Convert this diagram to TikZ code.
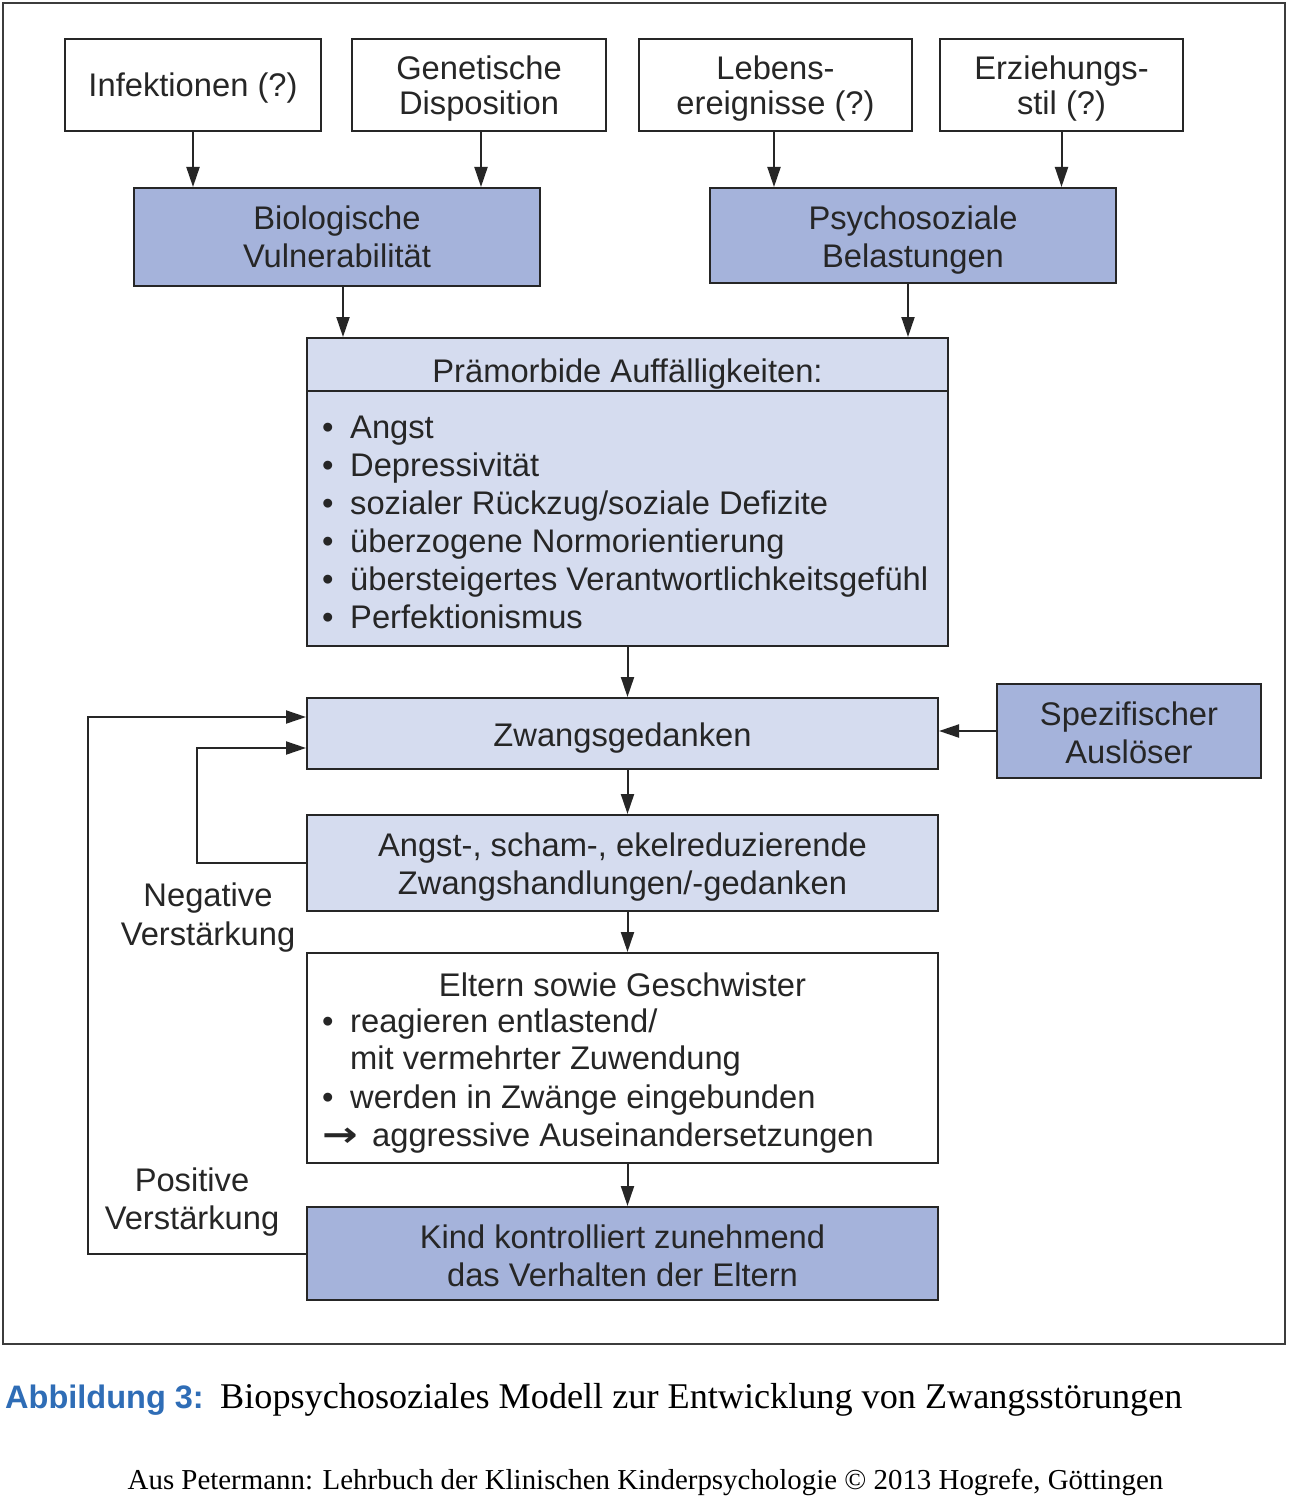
\documentclass[tikz,border=0pt]{standalone}
\usepackage{fontspec}
\usepackage{graphicx}
\setmainfont{Liberation Sans}
\newfontfamily\capserif{Liberation Serif}
\newfontfamily\dejavu{DejaVu Sans}
\usetikzlibrary{arrows.meta}
\definecolor{darkfill}{HTML}{A5B3DB}
\definecolor{lightfill}{HTML}{D5DCEF}
\definecolor{linecol}{HTML}{262626}
\definecolor{capblue}{HTML}{2F6DB6}
\tikzset{
  box/.style={draw=linecol, line width=2pt, inner sep=0pt},
  dbox/.style={box, fill=darkfill},
  lbox/.style={box, fill=lightfill},
  wbox/.style={box, fill=white},
  arr/.style={draw=linecol, line width=2pt, -{Triangle[length=20pt,width=13pt]}},
  conn/.style={draw=linecol, line width=2pt},
  txt/.style={inner sep=0pt, font=\fontsize{32.7}{38}\selectfont, text=black!85},
  lbl/.style={txt, anchor=base},
  lst/.style={txt, anchor=base west},
}
\begin{document}
\begin{tikzpicture}[x=1pt,y=-1pt]
\useasboundingbox (0,0) rectangle (1290,1498);
\fill[white] (0,0) rectangle (1290,1498);
\node[draw=linecol!90, line width=2.5pt, minimum width=1282pt, minimum height=1341pt, inner sep=0pt] (frame) at (644,673.5) {};

% top row
\node[wbox, minimum width=256pt, minimum height=92pt] (inf) at (193,85) {};
\node[wbox, minimum width=254pt, minimum height=92pt] (gen) at (479,85) {};
\node[wbox, minimum width=273pt, minimum height=92pt] (leb) at (775.5,85) {};
\node[wbox, minimum width=243pt, minimum height=92pt] (erz) at (1061.5,85) {};
\node[lbl] (tinf) at (193,97) {Infektionen (?)};
\node[lbl] (tgen1) at (479,80) {Genetische};
\node[lbl] (tgen2) at (479,115) {Disposition};
\node[lbl] (tleb1) at (775.5,80) {Lebens-};
\node[lbl] (tleb2) at (775.5,115) {ereignisse (?)};
\node[lbl] (terz1) at (1061.5,80) {Erziehungs-};
\node[lbl] (terz2) at (1061.5,115) {stil (?)};

% second row
\node[dbox, minimum width=406pt, minimum height=98pt] (bio) at (337,237) {};
\node[dbox, minimum width=406pt, minimum height=95pt] (psy) at (913,235.5) {};
\node[lbl] (tbio1) at (337,229) {Biologische};
\node[lbl] (tbio2) at (337,267) {Vulnerabilität};
\node[lbl] (tpsy1) at (913,229) {Psychosoziale};
\node[lbl] (tpsy2) at (913,267) {Belastungen};

% Praemorbide
\node[lbox, minimum width=641pt, minimum height=308pt] (pm) at (627.5,492) {};
\draw[conn] ([yshift=-54pt]pm.north west) -- ([yshift=-54pt]pm.north east);
\node[lbl] (pmh) at (627.5,382) {Prämorbide Auffälligkeiten:};
\foreach \t [count=\i] in {Angst,Depressivität,sozialer Rückzug/soziale Defizite,überzogene Normorientierung,übersteigertes Verantwortlichkeitsgefühl,Perfektionismus}{
  \node[lst] (pl\i) at (322,{438+(\i-1)*38}) {\makebox[28pt][l]{•}\t};
}

% Zwangsgedanken
\node[lbox, minimum width=631pt, minimum height=71pt] (zw) at (622.5,733.5) {};
\node[lbl] (tzw) at (622.5,746) {Zwangsgedanken};
\node[dbox, minimum width=264pt, minimum height=94pt] (sp) at (1129,731) {};
\node[lbl] (tsp1) at (1129,725) {Spezifischer};
\node[lbl] (tsp2) at (1129,763) {Auslöser};

% Angst box
\node[lbox, minimum width=631pt, minimum height=96pt] (an) at (622.5,863) {};
\node[lbl] (tan1) at (622.5,856) {Angst-, scham-, ekelreduzierende};
\node[lbl] (tan2) at (622.5,894) {Zwangshandlungen/-gedanken};

% Eltern box
\node[wbox, minimum width=631pt, minimum height=210pt] (el) at (622.5,1058) {};
\node[lbl] (elh) at (622.5,996) {Eltern sowie Geschwister};
\node[lst] (el1) at (322,1032) {\makebox[28pt][l]{•}reagieren entlastend/};
\node[lst] (el2) at (322,1069) {\makebox[28pt][l]{}mit vermehrter Zuwendung};
\node[lst] (el3) at (322,1108) {\makebox[28pt][l]{•}werden in Zwänge eingebunden};
\node[lst] (el4) at (322,1146) {\makebox[50pt][l]{{\dejavu\bfseries\scalebox{1.3}[1.05]{→}}}aggressive Auseinandersetzungen};

% Kind box
\node[dbox, minimum width=631pt, minimum height=93pt] (kd) at (622.5,1253.5) {};
\node[lbl] (tkd1) at (622.5,1248) {Kind kontrolliert zunehmend};
\node[lbl] (tkd2) at (622.5,1286) {das Verhalten der Eltern};

% arrows
\draw[arr] (inf.south) -- (inf.south |- bio.north);
\draw[arr] ([xshift=2pt]gen.south) -- ([xshift=2pt]gen.south |- bio.north);
\draw[arr] ([xshift=-1.5pt]leb.south) -- ([xshift=-1.5pt]leb.south |- psy.north);
\draw[arr] (erz.south) -- (erz.south |- psy.north);
\draw[arr] ([xshift=6pt]bio.south) -- ([xshift=6pt]bio.south |- pm.north);
\draw[arr] ([xshift=-5pt]psy.south) -- ([xshift=-5pt]psy.south |- pm.north);
\draw[arr] (pm.south) -- (pm.south |- zw.north);
\draw[arr] (pm.south |- zw.south) -- (pm.south |- an.north);
\draw[arr] (pm.south |- an.south) -- (pm.south |- el.north);
\draw[arr] (pm.south |- el.south) -- (pm.south |- kd.north);
\draw[arr] (sp.west) -- (sp.west -| zw.east);

% loops
\coordinate (nl) at (197,863);
\coordinate (pl) at (88,1253.5);
\draw[arr] (an.west) -- (nl) |- ([yshift=-14.5pt]zw.west);
\draw[arr] (kd.west) -- (pl) |- ([yshift=16.5pt]zw.west);
\node[lbl] (neg1) at (208,906) {Negative};
\node[lbl] (neg2) at (208,945) {Verstärkung};
\node[lbl] (pos1) at (192,1191) {Positive};
\node[lbl] (pos2) at (192,1229) {Verstärkung};

% caption
\node[inner sep=0pt, anchor=base west, font=\fontsize{32.5}{36}\selectfont\bfseries, text=capblue] (abb) at (5,1408) {Abbildung 3:};
\node[inner sep=0pt, anchor=base west, font=\capserif\fontsize{36.2}{40}\selectfont] (cap) at (220,1408) {Biopsychosoziales Modell zur Entwicklung von Zwangsstörungen};
\node[inner sep=0pt, anchor=base, font=\capserif\fontsize{28.9}{32}\selectfont] (src) at (645.5,1489) {Aus Petermann: Lehrbuch der Klinischen Kinderpsychologie © 2013 Hogrefe, Göttingen};
\end{tikzpicture}
\end{document}
